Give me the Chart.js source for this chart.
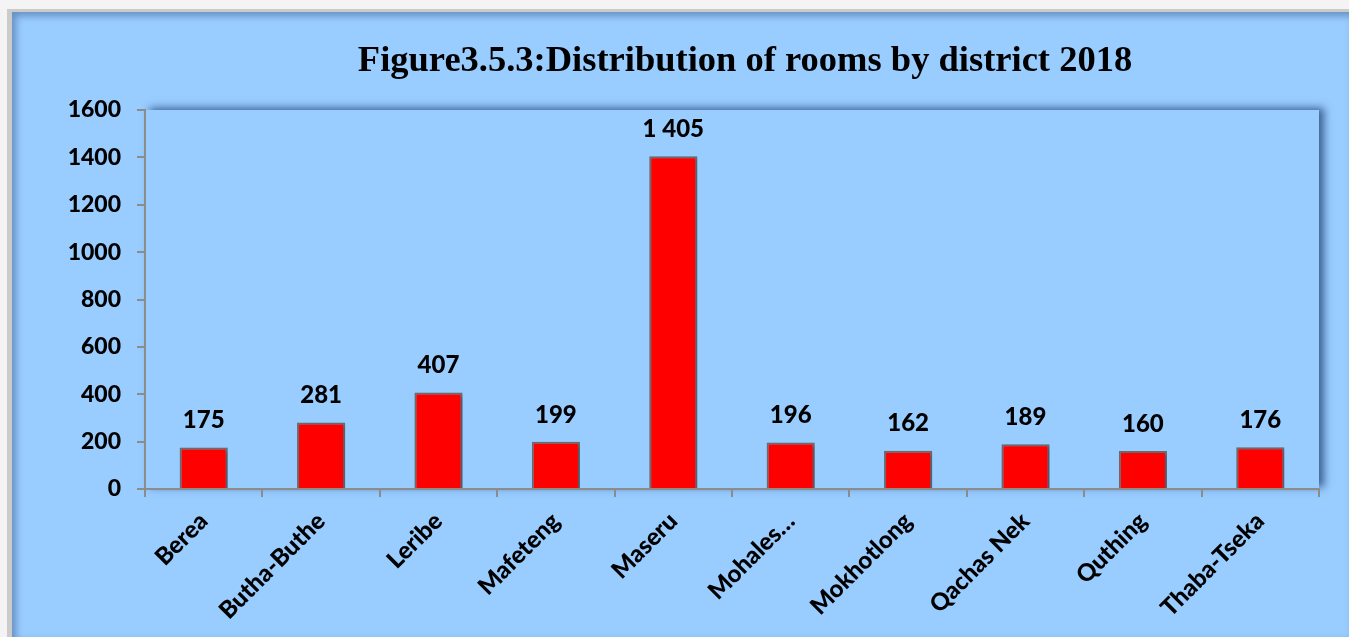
<!DOCTYPE html>
<html>
<head>
<meta charset="utf-8">
<script src="https://cdn.jsdelivr.net/npm/chart.js@4.4.1/dist/chart.umd.min.js"></script>
<style>
  html, body { margin: 0; padding: 0; background: #f4f4f4; overflow: hidden; }
  .frame { position: absolute; left: 7px; top: 9px; width: 1342px; height: 628px; background: #cbcbcb; }
  .chart-box {
    position: absolute; left: 12px; top: 12px; width: 1337px; height: 625px;
    background: #99ccff;
    box-shadow: inset 4px 4px 7px rgba(40, 70, 120, 0.45);
  }
  canvas { position: absolute; left: 0; top: 0; }
</style>
</head>
<body>
<div class="frame"></div>
<div class="chart-box">
  <canvas id="roomsChart" width="1337" height="625"></canvas>
</div>
<script>
// Figure 3.5.3 - rooms by district, 2018
const districts = ['Berea', 'Butha-Buthe', 'Leribe', 'Mafeteng', 'Maseru', 'Mohales\u2026', 'Mokhotlong', 'Qachas Nek', 'Quthing', 'Thaba-Tseka'];
const rooms = [175, 281, 407, 199, 1405, 196, 162, 189, 160, 176];
const yTicks = [0, 200, 400, 600, 800, 1000, 1200, 1400, 1600];
const chartTitle = 'Figure3.5.3:Distribution of rooms by district 2018';

const LABEL_FONT = 'Lato, "Open Sans", sans-serif';
const LABEL_WEIGHT = '900';

function formatThousands(v) {
  return String(v).replace(/\B(?=(\d{3})+(?!\d))/g, ' ');
}

// plot area with its drop shadow + the title
const backdropPlugin = {
  id: 'backdrop',
  beforeDraw(chart) {
    const { ctx, chartArea: a } = chart;
    ctx.save();
    ctx.shadowColor = 'rgba(30, 60, 110, 0.75)';
    ctx.shadowBlur = 8;
    ctx.shadowOffsetX = 5;
    ctx.shadowOffsetY = -2;
    ctx.fillStyle = '#99ccff';
    ctx.fillRect(a.left, a.top, a.right - a.left, a.bottom - a.top);
    ctx.restore();

    ctx.save();
    ctx.font = 'bold 36.5px "Liberation Serif", "DejaVu Serif", serif';
    ctx.fillStyle = '#000';
    ctx.textAlign = 'center';
    ctx.textBaseline = 'alphabetic';
    ctx.fillText(chartTitle, 733, 59);
    ctx.restore();
  },
  beforeDatasetsDraw(chart) {
    const ctx = chart.ctx;
    ctx.save();
    ctx.shadowColor = 'rgba(40, 60, 90, 0.45)';
    ctx.shadowBlur = 3;
    ctx.shadowOffsetX = 2;
    ctx.shadowOffsetY = 2;
  },
  afterDatasetsDraw(chart) {
    const ctx = chart.ctx;
    ctx.restore();

    // value labels above bars
    const meta = chart.getDatasetMeta(0);
    ctx.save();
    ctx.font = LABEL_WEIGHT + ' 24px ' + LABEL_FONT;
    ctx.fillStyle = '#000';
    ctx.textAlign = 'center';
    ctx.textBaseline = 'middle';
    meta.data.forEach((bar, i) => {
      ctx.fillText(formatThousands(rooms[i]), bar.x, bar.y - 27);
    });
    ctx.restore();
  }
};

new Chart(document.getElementById('roomsChart'), {
  type: 'bar',
  data: {
    labels: districts,
    datasets: [{
      label: 'Rooms',
      data: rooms,
      backgroundColor: '#ff0000',
      borderColor: '#6b6b6b',
      borderWidth: 2,
      barPercentage: 0.41,
      categoryPercentage: 1.0
    }]
  },
  options: {
    responsive: false,
    animation: false,
    layout: { padding: { top: 98, right: 30, left: 0, bottom: 0 } },
    plugins: {
      legend: { display: false },
      title: { display: false },
      tooltip: { enabled: false }
    },
    scales: {
      x: {
        afterFit: (scale) => { scale.height = 148; },
        grid: {
          drawOnChartArea: false,
          drawTicks: true,
          tickLength: 8,
          color: '#8c8c8c',
          lineWidth: 2,
          offset: true
        },
        border: { display: true, color: '#8c8c8c', width: 2 },
        ticks: {
          autoSkip: false,
          maxRotation: 45,
          minRotation: 45,
          padding: 10,
          color: '#000',
          font: { family: LABEL_FONT, size: 24, weight: LABEL_WEIGHT }
        }
      },
      y: {
        min: 0,
        max: 1600,
        afterFit: (scale) => { scale.width = 133; },
        afterBuildTicks: (scale) => { scale.ticks = yTicks.map(v => ({ value: v })); },
        grid: {
          drawOnChartArea: false,
          drawTicks: true,
          tickLength: 8,
          color: '#8c8c8c',
          lineWidth: 2
        },
        border: { display: true, color: '#8c8c8c', width: 2 },
        ticks: {
          padding: 16,
          color: '#000',
          callback: (v) => String(v),
          font: { family: LABEL_FONT, size: 23, weight: LABEL_WEIGHT }
        }
      }
    }
  },
  plugins: [backdropPlugin]
});
</script>
</body>
</html>
